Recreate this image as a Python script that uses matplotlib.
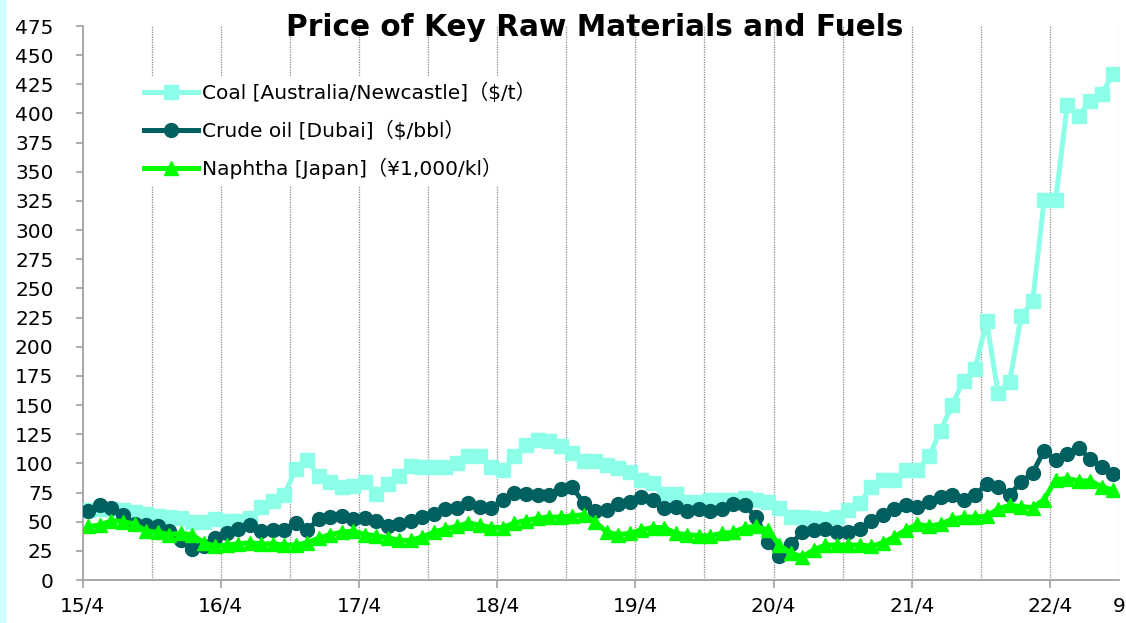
"""
Price of key raw materials and fuels, monthly 2015/4 - 2022/9
"""
import matplotlib
matplotlib.use("Agg")
import matplotlib.pyplot as plt
from matplotlib.patches import Rectangle

# monthly values, 2015/4 .. 2022/9 (90 months)
coal = [60, 61, 61, 60, 58, 57, 55, 54, 53, 50, 50, 52,
        51, 51, 53, 63, 68, 73, 95, 103, 89, 84, 80, 81,
        84, 74, 82, 89, 98, 97, 97, 97, 100, 106, 106, 97,
        94, 106, 116, 120, 119, 115, 109, 102, 102, 99, 96, 93,
        86, 83, 74, 74, 67, 67, 69, 69, 69, 70, 69, 67,
        62, 54, 54, 53, 52, 54, 60, 66, 80, 86, 86, 94,
        94, 106, 128, 150, 171, 181, 222, 160, 170, 226, 239, 326,
        326, 407, 398, 411, 417, 434]
crude = [59, 64, 62, 56, 48, 47, 46, 42, 34, 27, 29, 36,
         40, 44, 47, 42, 43, 43, 49, 43, 52, 54, 55, 52,
         53, 51, 46, 48, 51, 54, 57, 61, 62, 66, 63, 62,
         69, 75, 74, 73, 73, 78, 80, 66, 59, 60, 65, 67,
         71, 69, 62, 63, 59, 61, 59, 61, 65, 64, 54, 33,
         21, 31, 41, 43, 44, 41, 41, 44, 51, 56, 61, 64,
         63, 67, 71, 73, 69, 73, 82, 80, 73, 84, 92, 111,
         103, 108, 113, 104, 97, 91]
naphtha = [46, 47, 51, 50, 48, 42, 41, 39, 40, 39, 32, 29,
           30, 31, 32, 31, 31, 30, 30, 32, 36, 39, 41, 42,
           39, 38, 36, 34, 34, 37, 41, 44, 46, 49, 47, 45,
           45, 49, 51, 53, 54, 54, 55, 56, 50, 41, 39, 40,
           43, 45, 45, 40, 39, 38, 38, 40, 41, 45, 46, 43,
           30, 23, 20, 26, 30, 30, 30, 30, 29, 32, 37, 43,
           48, 46, 48, 52, 54, 54, 55, 61, 64, 63, 62, 69,
           86, 87, 85, 85, 80, 77]

year_labels = ["15/4", "16/4", "17/4", "18/4", "19/4", "20/4", "21/4", "22/4"]
last_label = "9"
legend_labels = ["Coal [Australia/Newcastle]（$/t）",
                 "Crude oil [Dubai]（$/bbl）",
                 "Naphtha [Japan]（¥1,000/kl）"]

W, H = 1126, 623
fig = plt.figure(figsize=(W / 100, H / 100), dpi=100)
ax = fig.add_axes([82.7 / W, (H - 580) / H, (1119 - 82.7) / W, (580 - 26) / H])

# light cyan strip on the left edge
fig.patches.append(Rectangle((0, 0), 5 / W, 1, transform=fig.transFigure,
                             color="#CCFFFF", zorder=0))

n = len(coal)
x = list(range(n))
ax.plot(x, coal, color="#8CFFE8", lw=3.6, marker="s", ms=9.5, zorder=3,
        label=legend_labels[0])
ax.plot(x, crude, color="#006060", lw=3.6, marker="o", ms=10, zorder=4,
        label=legend_labels[1])
ax.plot(x, naphtha, color="#00FF00", lw=3.6, marker="^", ms=10, zorder=5,
        label=legend_labels[2])

# half-year dotted gridlines
for k in range(1, n // 6 + 1):
    ax.axvline(-0.5 + 6 * k, color="#888888", lw=0.9, ls=(0, (1, 1)), zorder=1)

ax.set_xlim(-0.5, n - 0.5)
ax.set_ylim(0, 475)
ax.set_yticks(range(0, 476, 25))
ax.set_xticks([-0.5 + 12 * k for k in range(len(year_labels))])
ax.set_xticklabels(year_labels)
ax.set_xticks([n - 0.5], [last_label], minor=True)

for s in ["top", "right"]:
    ax.spines[s].set_visible(False)
for s in ["left", "bottom"]:
    ax.spines[s].set_color("#A0A0A0")
    ax.spines[s].set_linewidth(1.3)

ax.tick_params(axis="y", direction="out", length=5, width=1.2, color="#A0A0A0",
               labelsize=14.5, pad=16)
ax.tick_params(axis="x", which="major", direction="out", length=6, width=1.2,
               color="#A0A0A0", labelsize=14.5, pad=6)
ax.tick_params(axis="x", which="minor", length=0, labelsize=14.5, pad=12)

fig.text(595 / W, 1 - 28 / H, "Price of Key Raw Materials and Fuels",
         ha="center", va="center", fontsize=21.3, fontweight="bold",
         family="DejaVu Sans", zorder=7)

leg = ax.legend(loc="upper left", bbox_to_anchor=(138 / W, 1 - 77 / H),
                bbox_transform=fig.transFigure, frameon=True, fancybox=False,
                facecolor="white", edgecolor="white", framealpha=1,
                handlelength=2.7, handletextpad=0.2, labelspacing=0.86,
                borderpad=0.3, borderaxespad=0,
                prop={"family": ["DejaVu Sans", "Noto Sans CJK JP"], "size": 14.5})
leg.set_zorder(6)

fig.savefig("out.png", dpi=100)
